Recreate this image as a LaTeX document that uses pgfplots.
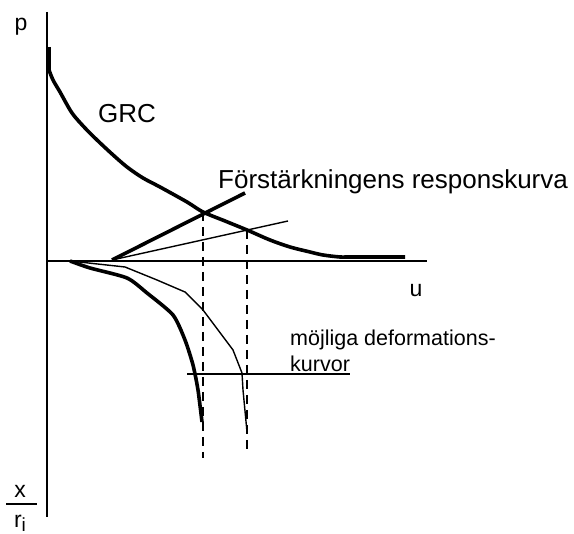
\documentclass[border=0pt]{standalone}
\usepackage{fontspec}
\setmainfont{Liberation Sans}
\usepackage{pgfplots}
\pgfplotsset{compat=1.18}

\begin{document}
\begin{tikzpicture}
\begin{axis}[
  width=574pt, height=534pt, scale only axis,
  xmin=0, xmax=574, ymin=0, ymax=534,
  hide axis, clip=false,
]
% frame extent
\addplot[draw=none] coordinates {(0,0) (574,534)};

% axes p and u
\addplot[line width=1.7pt] coordinates {(47,522) (47,17)};
\addplot[line width=1.5pt] coordinates {(47,273) (427,273)};

% ground reaction curve (GRC)
\addplot[line width=3.6pt] coordinates {(49,487) (49,462)};
\addplot[line width=3.6pt, smooth, tension=0.5] coordinates {
  (49,464) (53,454) (60,442) (72,421) (85,406) (97,394) (112,380)
  (127,367) (143,356) (160,347) (187,332) (203,322) (225,313)
  (247,304) (270,294) (290,287) (310,282) (323,279) (340,277)
  (350,277) (405,277)};

% reinforcement response curves
\addplot[line width=3.6pt] coordinates {(112,274) (245,341)};
\addplot[line width=1.4pt] coordinates {(112,274) (288,313)};

% equilibrium points projected downwards
\addplot[line width=1.6pt, dash pattern=on 9pt off 6pt] coordinates {(203,322) (203,76)};
\addplot[line width=1.6pt, dash pattern=on 9pt off 6pt] coordinates {(247,304) (247,81)};

% possible deformation curves
\addplot[line width=3.6pt, smooth, tension=0.4] coordinates {
  (70,273) (90,266) (127,256) (147,241) (173,219) (185,194)
  (193,169) (198,144) (202,112)};
\addplot[line width=1.4pt] coordinates {
  (70,273) (125,267) (157,254) (185,242) (203,224) (218,204)
  (233,184) (242,161) (243,144) (247,102)};

% pointer to the deformation curves
\addplot[line width=1.6pt] coordinates {(187,160) (350,160)};

% labels
\node[anchor=base, inner sep=0pt, font=\fontsize{23}{27}\selectfont] at (axis cs:21,503) {p};
\node[anchor=base, inner sep=0pt, font=\fontsize{23}{27}\selectfont] at (axis cs:416,237) {u};
\node[anchor=base west, inner sep=0pt, font=\fontsize{26}{30}\selectfont] at (axis cs:98,411) {GRC};
\node[anchor=base west, inner sep=0pt, font=\fontsize{26}{30}\selectfont] at (axis cs:218,345) {Förstärkningens responskurva};
\node[anchor=base west, inner sep=0pt, font=\fontsize{21.5}{26}\selectfont] at (axis cs:290,188) {möjliga deformations-};
\node[anchor=base west, inner sep=0pt, font=\fontsize{21.5}{26}\selectfont] at (axis cs:290,162) {kurvor};
% x / r_i written as a fraction
\node[anchor=base, inner sep=0pt, font=\fontsize{23}{27}\selectfont] at (axis cs:20,36) {x};
\node[inner sep=0pt] at (axis cs:21.5,30) {\rule{31pt}{1.8pt}};
\node[anchor=base west, inner sep=0pt, font=\fontsize{23}{27}\selectfont] at (axis cs:14,6) {r};
\node[anchor=base west, inner sep=0pt, font=\fontsize{19}{22}\selectfont] at (axis cs:21.5,2.5) {i};
\end{axis}
\end{tikzpicture}
\end{document}
